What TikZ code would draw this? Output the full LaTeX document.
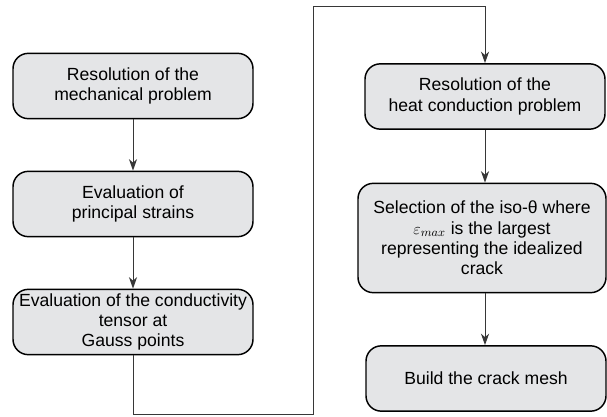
\documentclass[tikz,border=0pt]{standalone}
\usepackage{fontspec}
\setmainfont{Liberation Sans}
\usetikzlibrary{arrows.meta}
\definecolor{boxgray}{RGB}{228,229,231}
\definecolor{linegray}{RGB}{55,55,55}
\begin{document}
\begin{tikzpicture}[x=0.75pt,y=-0.75pt,
    stepbox/.style={draw=black, line width=1.1pt, fill=boxgray, rounded corners=11.5pt,
                    align=center, minimum width=180pt, minimum height=49pt,
                    inner sep=2pt, font=\fontsize{13.2}{15.2}\selectfont},
    arr/.style={draw=linegray, line width=0.75pt, -{Stealth[length=8.5pt,width=6pt,inset=2.5pt]}}]
      % 画布大小(像素坐标,y 轴向下)
      \useasboundingbox (0,0) rectangle (607,417);

      % 左列:力学问题
      \node[stepbox] (mech) at (133,86)  {Resolution of the\\mechanical problem};
      \node[stepbox] (strain) at (133,204) {Evaluation of\\principal strains};
      \node[stepbox] (tensor) at (133,322) {Evaluation of the conductivity\\tensor at\\Gauss points};

      % 右列:热传导问题
      \node[stepbox] (heat) at (485,96.5) {Resolution of the\\heat conduction problem};
      \node[stepbox, minimum width=186pt, minimum height=82pt] (iso) at (482,238)
          {Selection of the iso-θ where\\$\varepsilon_{max}$ is the largest\\representing the idealized\\crack};
      \node[stepbox] (mesh) at (486,378.5) {Build the crack mesh};

      % 连接线的拐点
      \coordinate (low) at (313,414);
      \coordinate (high) at (313,7);

      % 箭头
      \draw[arr] (mech) -- (strain);
      \draw[arr] (strain) -- (tensor);
      \draw[arr] (tensor.south) |- (low) -- (high) -| (heat.north);
      \draw[arr] (heat.south) -- (heat.south |- iso.north);
      \draw[arr] (heat.south |- iso.south) -- (heat.south |- mesh.north);
\end{tikzpicture}
\end{document}
